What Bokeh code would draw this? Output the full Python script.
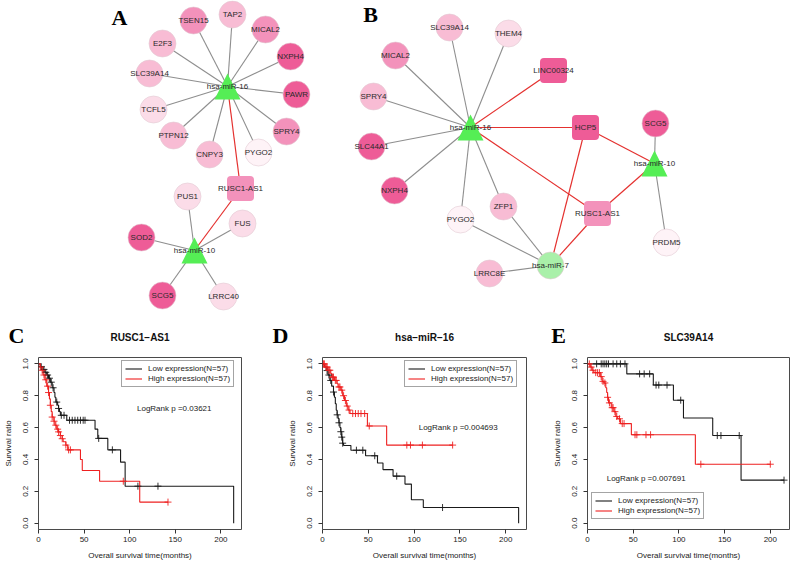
from bokeh.plotting import figure
from bokeh.models import (Range1d, Label, Legend, LegendItem, FixedTicker,
                          PrintfTickFormatter, ColumnDataSource)
from bokeh.layouts import column, row
from bokeh.core.properties import value
from bokeh.embed import file_html
from bokeh.resources import INLINE

# ---------------- Network A ----------------
A_nodes = ["hsa-miR-16", "hsa-miR-10", "RUSC1-AS1", "TSEN15", "TAP2", "MICAL2", "NXPH4",
           "PAWR", "SPRY4", "PYGO2", "CNPY3", "PTPN12", "TCFL5", "SLC39A14", "E2F3",
           "PUS1", "FUS", "SOD2", "SCG5", "LRRC40"]
A_shape = ["triangle", "triangle", "square"] + ["circle"] * 17
A_level = ["G", "G", 3, 3, 2, 3, 4, 4, 3, 0, 2, 2, 1, 2, 2, 1, 1, 4, 4, 1]
A_x = [227, 194, 240, 193, 232, 265, 290, 296, 286, 258, 209, 173, 153, 149, 162, 187, 242, 141, 162, 223]
A_y = [86, 250, 188, 20, 14, 29, 56, 94, 131, 152, 154, 135, 109, 73, 43, 196, 223, 237, 295, 296]
A_src = ["hsa-miR-16"] * 12 + ["RUSC1-AS1"] + ["hsa-miR-10"] * 5 + ["RUSC1-AS1"]
A_dst = ["TSEN15", "TAP2", "MICAL2", "NXPH4", "PAWR", "SPRY4", "PYGO2", "CNPY3", "PTPN12",
         "TCFL5", "SLC39A14", "E2F3", "hsa-miR-16", "PUS1", "FUS", "SOD2", "SCG5", "LRRC40",
         "hsa-miR-10"]

# ---------------- Network B ----------------
B_nodes = ["hsa-miR-16", "hsa-miR-10", "hsa-miR-7", "LINC00324", "HCP5", "RUSC1-AS1",
           "SLC39A14", "THEM4", "MICAL2", "SPRY4", "SLC44A1", "NXPH4", "ZFP1", "PYGO2",
           "LRRC8E", "SCG5", "PRDM5"]
B_shape = ["triangle", "triangle", "circle", "square", "square", "square"] + ["circle"] * 11
B_level = ["G", "G", "g", 4, 4, 3, 2, 1, 3, 2, 4, 4, 2, 0, 2, 4, 0]
B_x = [470, 654, 550, 553, 585, 597, 449, 508, 395, 373, 371, 394, 503, 460, 489, 655, 666]
B_y = [127, 163, 265, 70, 127, 213, 27, 33, 55, 96, 146, 190, 206, 219, 273, 123, 242]
B_src = ["hsa-miR-16"] * 8 + ["LINC00324", "HCP5", "RUSC1-AS1"] + ["hsa-miR-10"] * 2 + \
        ["HCP5", "RUSC1-AS1"] + ["hsa-miR-7"] * 3 + ["HCP5", "RUSC1-AS1"]
B_dst = ["SLC39A14", "THEM4", "MICAL2", "SPRY4", "SLC44A1", "NXPH4", "PYGO2", "ZFP1",
         "hsa-miR-16", "hsa-miR-16", "hsa-miR-16", "SCG5", "PRDM5", "hsa-miR-10", "hsa-miR-10",
         "PYGO2", "ZFP1", "LRRC8E", "hsa-miR-7", "hsa-miR-7"]

# ---------------- Kaplan-Meier data ----------------
x_ticks = [0, 50, 100, 150, 200]
y_ticks = [0.0, 0.2, 0.4, 0.6, 0.8, 1.0]
legend_labels = ["Low expression(N=57)", "High expression(N=57)"]
panel_letters = ["C", "D", "E"]

C_title = "RUSC1\u2212AS1"
C_p = "LogRank p =0.03621"
C_low_t = [0, 2, 5, 7, 9, 11, 13, 15, 17, 18, 19, 21, 22, 23, 24, 31, 62, 65, 76, 90, 95, 214]
C_low_s = [1.0, 0.982, 0.965, 0.947, 0.93, 0.91, 0.885, 0.85, 0.82, 0.79, 0.76, 0.74, 0.72, 0.70,
           0.677, 0.646, 0.59, 0.532, 0.46, 0.383, 0.232, 0.0]
C_low_cens = [3, 6, 8, 10, 12, 14, 16, 20, 22, 25, 28, 34, 37, 40, 43, 46, 49, 51, 66, 81, 109, 131]
C_high_t = [0, 2, 4, 5, 7, 9, 11, 12, 13, 14, 15, 17, 18, 20, 22, 24, 26, 27, 30, 32, 46, 48, 67, 111, 142]
C_high_s = [1.0, 0.98, 0.96, 0.93, 0.90, 0.86, 0.82, 0.78, 0.74, 0.70, 0.666, 0.64, 0.615, 0.59,
            0.573, 0.55, 0.53, 0.511, 0.49, 0.46, 0.40, 0.33, 0.263, 0.132, 0.132]
C_high_cens = [2, 4, 6, 8, 10, 11, 13, 15, 17, 19, 21, 22, 24, 26, 30, 33, 35, 93, 142]

D_title = "hsa\u2212miR\u221216"
D_p = "LogRank p =0.004693"
D_low_t = [0, 2, 4, 6, 8, 10, 12, 13, 14, 15, 16, 17, 18, 19, 20, 21, 22, 23, 31, 47, 60, 66, 77,
           90, 97, 110, 214]
D_low_s = [1.0, 0.98, 0.958, 0.93, 0.896, 0.86, 0.823, 0.79, 0.75, 0.709, 0.68, 0.658, 0.63, 0.60,
           0.574, 0.54, 0.502, 0.487, 0.458, 0.423, 0.378, 0.336, 0.295, 0.245, 0.147, 0.098, 0.0]
D_low_cens = [5, 7, 9, 12, 16, 18, 20, 21, 22, 37, 44, 57, 81, 131]
D_high_t = [0, 3, 6, 9, 10, 13, 16, 17, 20, 22, 24, 26, 28, 30, 49, 70, 142]
D_high_s = [1.0, 0.98, 0.96, 0.94, 0.917, 0.896, 0.875, 0.855, 0.835, 0.80, 0.77, 0.735, 0.71,
            0.688, 0.61, 0.49, 0.49]
D_high_cens = [1, 2, 4, 5, 7, 8, 11, 12, 14, 15, 18, 19, 21, 23, 25, 27, 29, 33, 36, 39, 42, 46,
               51, 92, 96, 109, 142]

E_title = "SLC39A14"
E_p = "LogRank p =0.007691"
E_low_t = [0, 43, 72, 94, 105, 137, 168, 215]
E_low_s = [1.0, 0.937, 0.867, 0.772, 0.66, 0.55, 0.27, 0.27]
E_low_cens = [10, 15, 17, 19, 21, 23, 28, 32, 36, 41, 57, 62, 68, 75, 78, 87, 102, 142, 146, 166, 215]
E_high_t = [0, 3, 5, 7, 14, 16, 18, 20, 21, 22, 23, 26, 29, 31, 33, 36, 48, 118, 200]
E_high_s = [1.0, 0.98, 0.96, 0.945, 0.92, 0.89, 0.88, 0.85, 0.82, 0.79, 0.755, 0.725, 0.70, 0.67,
            0.655, 0.625, 0.555, 0.37, 0.37]
E_high_cens = [2, 4, 6, 9, 11, 13, 15, 17, 19, 22, 24, 27, 28, 30, 32, 35, 38, 40, 52, 54, 64,
               69, 124, 200]

# ---------------- styles ----------------
SANS = "Liberation Sans"
SERIF = "Liberation Serif"
LEVEL_COLORS = {0: "#FEF3F7", 1: "#FBDCE8", 2: "#F8BCD4", 3: "#F392BB", 4: "#EE5C97",
                "G": "#55EE55", "g": "#A9F0A9"}
GRAY_EDGE = "#8E8E8E"
RED_EDGE = "#E4312F"
BLACK = "#1a1a1a"
RED = "#EE2020"

# layout geometry (pixels)
TOP_H = 350
KM_H = 562 - TOP_H
KM_W = [262, 265, 265]
KM_LEFT = [38, 60, 60]
KM_RIGHT = [21, 1, 3]
KM_XMAX = [222.6, 222.6, 221.0]


def draw_network(p, names, shapes, levels, xs, ys, src, dst):
    pos = {n: (x, y) for n, x, y in zip(names, xs, ys)}
    shape_of = dict(zip(names, shapes))
    g = dict(x0=[], y0=[], x1=[], y1=[])
    r = dict(x0=[], y0=[], x1=[], y1=[])
    for s, d in zip(src, dst):
        tgt = r if (shape_of[s] == "square" or shape_of[d] == "square") else g
        tgt["x0"].append(pos[s][0]); tgt["y0"].append(pos[s][1])
        tgt["x1"].append(pos[d][0]); tgt["y1"].append(pos[d][1])
    p.segment(source=ColumnDataSource(g), x0="x0", y0="y0", x1="x1", y1="y1",
              line_color=GRAY_EDGE, line_width=1.1)
    p.segment(source=ColumnDataSource(r), x0="x0", y0="y0", x1="x1", y1="y1",
              line_color=RED_EDGE, line_width=1.2)
    circ = dict(x=[], y=[], c=[])
    sq = dict(x=[], y=[], c=[])
    tri = dict(xs=[], ys=[], c=[])
    for n, sh, lv, x, y in zip(names, shapes, levels, xs, ys):
        col = LEVEL_COLORS[lv]
        if sh == "circle":
            circ["x"].append(x); circ["y"].append(y); circ["c"].append(col)
        elif sh == "square":
            sq["x"].append(x); sq["y"].append(y); sq["c"].append(col)
        else:
            h = 13
            tri["xs"].append([x, x - h, x + h]); tri["ys"].append([y - h, y + h, y + h])
            tri["c"].append(col)
    p.scatter(source=ColumnDataSource(circ), x="x", y="y", size=27, marker="circle",
              fill_color="c", line_color="#E2CBD4", line_width=0.6)
    rr = p.rect(source=ColumnDataSource(sq), x="x", y="y", width=27, height=25,
                width_units="screen", height_units="screen", fill_color="c", line_color=None)
    try:
        rr.glyph.border_radius = 4
    except Exception:
        pass
    p.patches(source=ColumnDataSource(tri), xs="xs", ys="ys", fill_color="c", line_color=None)
    p.text(x=xs, y=ys, text=names, text_font=value(SANS), text_font_size="8px",
           text_align="center", text_baseline="middle", text_color="#2a2a2a")


top = figure(width=792, height=TOP_H, x_range=Range1d(0, 792), y_range=Range1d(TOP_H, 0),
             x_axis_type=None, y_axis_type=None, output_backend="svg", toolbar_location=None,
             min_border=0)
top.grid.visible = False
top.outline_line_color = None
draw_network(top, A_nodes, A_shape, A_level, A_x, A_y, A_src, A_dst)
draw_network(top, B_nodes, B_shape, B_level, B_x, B_y, B_src, B_dst)

# panel letters (serif bold) and KM titles, placed in the top canvas strip
letters = ["A", "B"] + panel_letters
letter_x = [119, 370, 16, 280, 558]
letter_y = [17, 14, 335, 335, 335]
top.text(x=letter_x, y=letter_y, text=letters, text_font=value(SERIF), text_font_style="bold",
         text_font_size="22px", text_align="center", text_baseline="middle", text_color="#000000")
titles = [C_title, D_title, E_title]
title_x = []
acc = 0
for w, l, rt in zip(KM_W, KM_LEFT, KM_RIGHT):
    title_x.append(acc + l + (w - l - rt) / 2)
    acc += w
top.text(x=title_x, y=[337] * 3, text=titles, text_font=value(SANS), text_font_style="bold",
         text_font_size="10px", text_align="center", text_baseline="middle", text_color="#111111")


def surv_at(ts, ss, t):
    v = ss[0]
    for ti, si in zip(ts, ss):
        if ti <= t:
            v = si
    return v


def km_panel(i, lowt, lows, lowc, hight, highs, highc, ptext, ppos, legloc):
    p = figure(width=KM_W[i], height=KM_H, x_range=Range1d(0, KM_XMAX[i]),
               y_range=Range1d(-0.04, 1.04), output_backend="svg", toolbar_location=None,
               min_border_left=KM_LEFT[i], min_border_right=KM_RIGHT[i],
               min_border_top=357 - TOP_H, min_border_bottom=KM_H - (357 - TOP_H) - 173)
    p.grid.visible = False
    p.outline_line_color = "#4a4a4a"
    p.outline_line_width = 1
    for ax in p.axis:
        ax.axis_line_color = None
        ax.major_tick_in = 0
        ax.major_tick_out = 4
        ax.major_tick_line_color = "#333333"
        ax.minor_tick_line_color = None
        ax.major_label_text_font = SANS
        ax.major_label_text_font_size = "8px"
        ax.major_label_text_color = "#222222"
        ax.axis_label_text_font = SANS
        ax.axis_label_text_font_size = "8px"
        ax.axis_label_text_font_style = "normal"
        ax.axis_label_text_color = "#222222"
    p.xaxis.ticker = FixedTicker(ticks=x_ticks)
    p.yaxis.ticker = FixedTicker(ticks=y_ticks)
    p.yaxis.formatter = PrintfTickFormatter(format="%.1f")
    p.yaxis.major_label_orientation = "vertical"
    p.xaxis.axis_label = "Overall survival time(months)"
    p.yaxis.axis_label = "Survival ratio"
    p.xaxis.major_label_standoff = 3
    p.xaxis.axis_label_standoff = 6
    p.yaxis.major_label_standoff = 6
    p.yaxis.axis_label_standoff = 8

    r_low = p.step(lowt, lows, mode="after", line_color=BLACK, line_width=1.1)
    r_high = p.step(hight, highs, mode="after", line_color=RED, line_width=1.1)
    p.scatter(lowc, [surv_at(lowt, lows, t) for t in lowc], marker="cross", size=7,
              line_color=BLACK, line_width=0.9)
    p.scatter(highc, [surv_at(hight, highs, t) for t in highc], marker="cross", size=7,
              line_color=RED, line_width=0.9)

    leg = Legend(items=[LegendItem(label=legend_labels[0], renderers=[r_low]),
                        LegendItem(label=legend_labels[1], renderers=[r_high])],
                 location=legloc, orientation="vertical")
    leg.label_text_font = SANS
    leg.label_text_font_size = "8px"
    leg.label_text_color = "#222222"
    leg.glyph_width = 17
    leg.glyph_height = 9
    leg.label_height = 9
    leg.label_standoff = 6
    leg.spacing = 1
    leg.padding = 3
    leg.margin = 0
    leg.border_line_color = "#4a4a4a"
    leg.border_line_width = 1
    leg.background_fill_color = "white"
    leg.background_fill_alpha = 1
    p.add_layout(leg)

    p.add_layout(Label(x=ppos[0], y=ppos[1], text=ptext, text_font=SANS, text_font_size="8px",
                       text_align="left", text_baseline="middle", text_color="#222222"))
    return p


pc = km_panel(0, C_low_t, C_low_s, C_low_cens, C_high_t, C_high_s, C_high_cens, C_p,
              (108, 0.72), (83, 142))
pd_ = km_panel(1, D_low_t, D_low_s, D_low_cens, D_high_t, D_high_s, D_high_cens, D_p,
               (105, 0.60), (82, 142))
pe = km_panel(2, E_low_t, E_low_s, E_low_cens, E_high_t, E_high_s, E_high_cens, E_p,
              (21, 0.28), (4, 10))

layout = column(top, row(pc, pd_, pe))
open("out.html", "w").write(file_html(layout, INLINE))
